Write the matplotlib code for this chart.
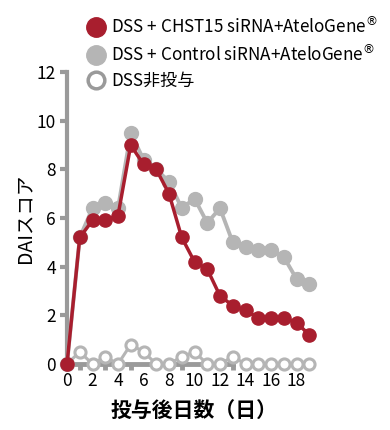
import numpy as np
import matplotlib
matplotlib.use("Agg")
from matplotlib import pyplot as plt
from matplotlib.lines import Line2D
from matplotlib.ticker import FixedLocator

plt.rcParams.update({
    "font.family": ["Noto Sans CJK JP", "DejaVu Sans"],
    "font.size": 12.5})

# days after dosing
days = list(range(20))

# DAI score per group
chst15 = [0, 5.2, 5.9, 5.9, 6.1, 9.0, 8.2, 8.0, 7.0, 5.2, 4.2, 3.9, 2.8, 2.4, 2.2, 1.9, 1.9, 1.9, 1.7, 1.2]
control = [0, 5.2, 6.4, 6.6, 6.4, 9.5, 8.4, 8.0, 7.5, 6.4, 6.8, 5.8, 6.4, 5.0, 4.8, 4.7, 4.7, 4.4, 3.5, 3.3]
no_dss = [0, 0.5, 0, 0.3, 0, 0.8, 0.5, 0, 0, 0.3, 0.5, 0, 0, 0.3, 0, 0, 0, 0, 0, 0]

labels = ["DSS + CHST15 siRNA+AteloGene$^{®}$",
          "DSS + Control siRNA+AteloGene$^{®}$",
          "DSS非投与"]

red = "#a81e2e"
grey = "#b5b5b5"
axis_grey = "#9a9a9a"

fig = plt.figure(figsize=(3.9, 4.3), dpi=100)
ax = fig.add_axes([67/390, 66/430, 255/390, 292/430])

ax.plot(days, no_dss, "-o", color=grey, lw=2.2, ms=8, mfc="white", mec=grey, mew=2.2, clip_on=False, zorder=3)
ax.plot(days, control, "-o", color=grey, lw=2.8, ms=10, clip_on=False, zorder=4)
ax.plot(days, chst15, "-o", color=red, lw=2.5, ms=9.5, clip_on=False, zorder=5)

ax.set_xlim(0, 20)
ax.set_ylim(0, 12)
ax.set_yticks(np.arange(0, 13, 2))
ax.set_xticks(np.arange(0, 19, 2))
ax.xaxis.set_minor_locator(FixedLocator(np.arange(1, 14, 2)))
ax.tick_params(axis="x", which="major", length=0, pad=6)
ax.tick_params(axis="x", which="minor", length=4, width=3.5, color=axis_grey)
ax.tick_params(axis="y", length=5, width=3, color=axis_grey, pad=3)

for s in ["top", "right"]:
    ax.spines[s].set_visible(False)
ax.spines["left"].set_color(axis_grey)
ax.spines["left"].set_linewidth(3)
ax.spines["bottom"].set_color(axis_grey)
ax.spines["bottom"].set_linewidth(3.5)
ax.spines["bottom"].set_bounds(0, 13)

ax.set_xlabel("投与後日数（日）", fontsize=15, fontweight="bold", labelpad=7)
ax.set_ylabel("DAIスコア", fontsize=14, labelpad=1)

handles = [Line2D([], [], ls="", marker="o", ms=14, color=red),
           Line2D([], [], ls="", marker="o", ms=14, color=grey),
           Line2D([], [], ls="", marker="o", ms=12, mfc="white", mec=axis_grey, mew=2.5)]
fig.legend(handles, labels, loc="upper left", bbox_to_anchor=(72/390, 0.995),
           frameon=False, handletextpad=0.3, labelspacing=0.42, handlelength=1.2,
           borderaxespad=0.4, fontsize=12.3)

fig.savefig("out.png", dpi=100)
